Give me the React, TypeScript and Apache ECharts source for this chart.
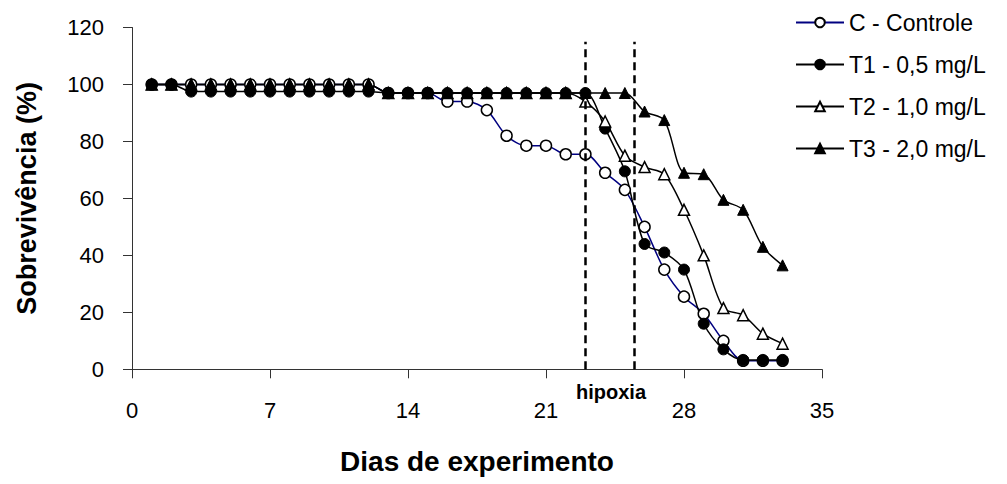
import React, { useEffect, useRef } from "react";
import * as echarts from "echarts";

// Survival (%) per day of experiment, days 1..33
const days: number[] = Array.from({ length: 33 }, (_, i) => i + 1);

const controle: number[] = [
  100, 100, 100, 100, 100, 100, 100, 100, 100, 100, 100, 100,
  97, 97, 97, 94, 94, 91, 82, 78.5, 78.5, 75.5, 75.5, 69, 63,
  50, 35, 25.5, 19.5, 10, 3, 3, 3,
];
const t1: number[] = [
  100, 100, 97.5, 97.5, 97.5, 97.5, 97.5, 97.5, 97.5, 97.5, 97.5, 97.5,
  97, 97, 97, 97, 97, 97, 97, 97, 97, 97, 97, 84.5, 69.5,
  44, 41, 35, 16, 7, 3.3, 3.3, 3.3,
];
const t2: number[] = [
  100, 100, 100, 100, 100, 100, 100, 100, 100, 100, 100, 100,
  97, 97, 97, 97, 97, 97, 97, 97, 97, 97, 94, 87, 75,
  71, 68.5, 56, 40, 21.5, 19, 12.5, 9,
];
const t3: number[] = [
  100, 100, 100, 100, 100, 100, 100, 100, 100, 100, 100, 100,
  97, 97, 97, 97, 97, 97, 97, 97, 97, 97, 97, 97, 97,
  90.5, 87.5, 69, 68.5, 59.5, 56, 43, 36.5,
];

const seriesNames: string[] = [
  "C - Controle",
  "T1 - 0,5 mg/L",
  "T2 - 1,0 mg/L",
  "T3 - 2,0 mg/L",
];

// Start and end of the hypoxia period (days)
const hipoxiaDays: number[] = [23, 25.5];
const hipoxiaTop = 115;

const FONT = "Liberation Sans";

const pairs = (vals: number[]) => vals.map((v, i) => [days[i], v]);

export default function App() {
  const ref = useRef<HTMLDivElement>(null);

  useEffect(() => {
    document.body.style.margin = "0";
    if (!ref.current) return;
    const chart = echarts.init(ref.current, undefined, { renderer: "svg" });

    const lineBase = {
      type: "line" as const,
      smooth: 0.3,
      symbolSize: 11,
      lineStyle: { width: 1.5, color: "#000" },
    };

    chart.setOption({
      animation: false,
      backgroundColor: "#fff",
      textStyle: { fontFamily: FONT, color: "#000" },
      grid: { left: 132, right: 185, top: 27.5, bottom: 114.7 },
      legend: {
        orient: "vertical",
        left: 790,
        top: 6,
        itemWidth: 48,
        itemHeight: 12,
        itemGap: 19,
        data: seriesNames,
        textStyle: { fontSize: 23, color: "#000", fontFamily: FONT },
      },
      xAxis: {
        type: "value",
        min: 0,
        max: 35,
        interval: 7,
        name: "Dias de experimento",
        nameLocation: "middle",
        nameGap: 78,
        nameTextStyle: { fontSize: 28, fontWeight: "bold", color: "#000", fontFamily: FONT },
        axisLine: { show: true, lineStyle: { color: "#333", width: 1 } },
        axisTick: { show: true, inside: false, length: 9, lineStyle: { color: "#333" } },
        axisLabel: { fontSize: 22, color: "#000", margin: 30, fontFamily: FONT },
        splitLine: { show: false },
      },
      yAxis: {
        type: "value",
        min: 0,
        max: 120,
        interval: 20,
        name: "Sobrevivência (%)",
        nameLocation: "middle",
        nameGap: 92,
        nameRotate: 90,
        nameTextStyle: { fontSize: 27, fontWeight: "bold", color: "#000", fontFamily: FONT },
        axisLine: { show: true, lineStyle: { color: "#333", width: 1 } },
        axisTick: { show: true, inside: false, length: 9, lineStyle: { color: "#333" } },
        axisLabel: { fontSize: 22, color: "#000", margin: 28, fontFamily: FONT },
        splitLine: { show: false },
      },
      series: [
        {
          ...lineBase,
          name: seriesNames[0],
          data: pairs(controle),
          symbol: "circle",
          lineStyle: { width: 1.5, color: "#000080" },
          itemStyle: { color: "#fff", borderColor: "#000", borderWidth: 1.5 },
          markLine: {
            silent: true,
            symbol: ["none", "none"],
            label: { show: false },
            lineStyle: { color: "#000", width: 2.5, type: [8, 5] },
            data: hipoxiaDays.map((d) => [
              { coord: [d, 0] },
              { coord: [d, hipoxiaTop] },
            ]),
          },
        },
        {
          ...lineBase,
          name: seriesNames[1],
          data: pairs(t1),
          symbol: "circle",
          itemStyle: { color: "#000", borderColor: "#000", borderWidth: 1 },
        },
        {
          ...lineBase,
          name: seriesNames[2],
          data: pairs(t2),
          symbol: "triangle",
          itemStyle: { color: "#fff", borderColor: "#000", borderWidth: 1.5 },
        },
        {
          ...lineBase,
          name: seriesNames[3],
          data: pairs(t3),
          symbol: "triangle",
          itemStyle: { color: "#000", borderColor: "#000", borderWidth: 1 },
        },
      ],
      graphic: [
        {
          type: "text",
          x: 611,
          y: 392,
          style: {
            text: "hipoxia",
            align: "center",
            verticalAlign: "middle",
            font: `bold 20px "${FONT}"`,
            fill: "#000",
          },
        },
      ],
    });

    return () => chart.dispose();
  }, []);

  return <div ref={ref} style={{ width: 1007, height: 484 }} />;
}
